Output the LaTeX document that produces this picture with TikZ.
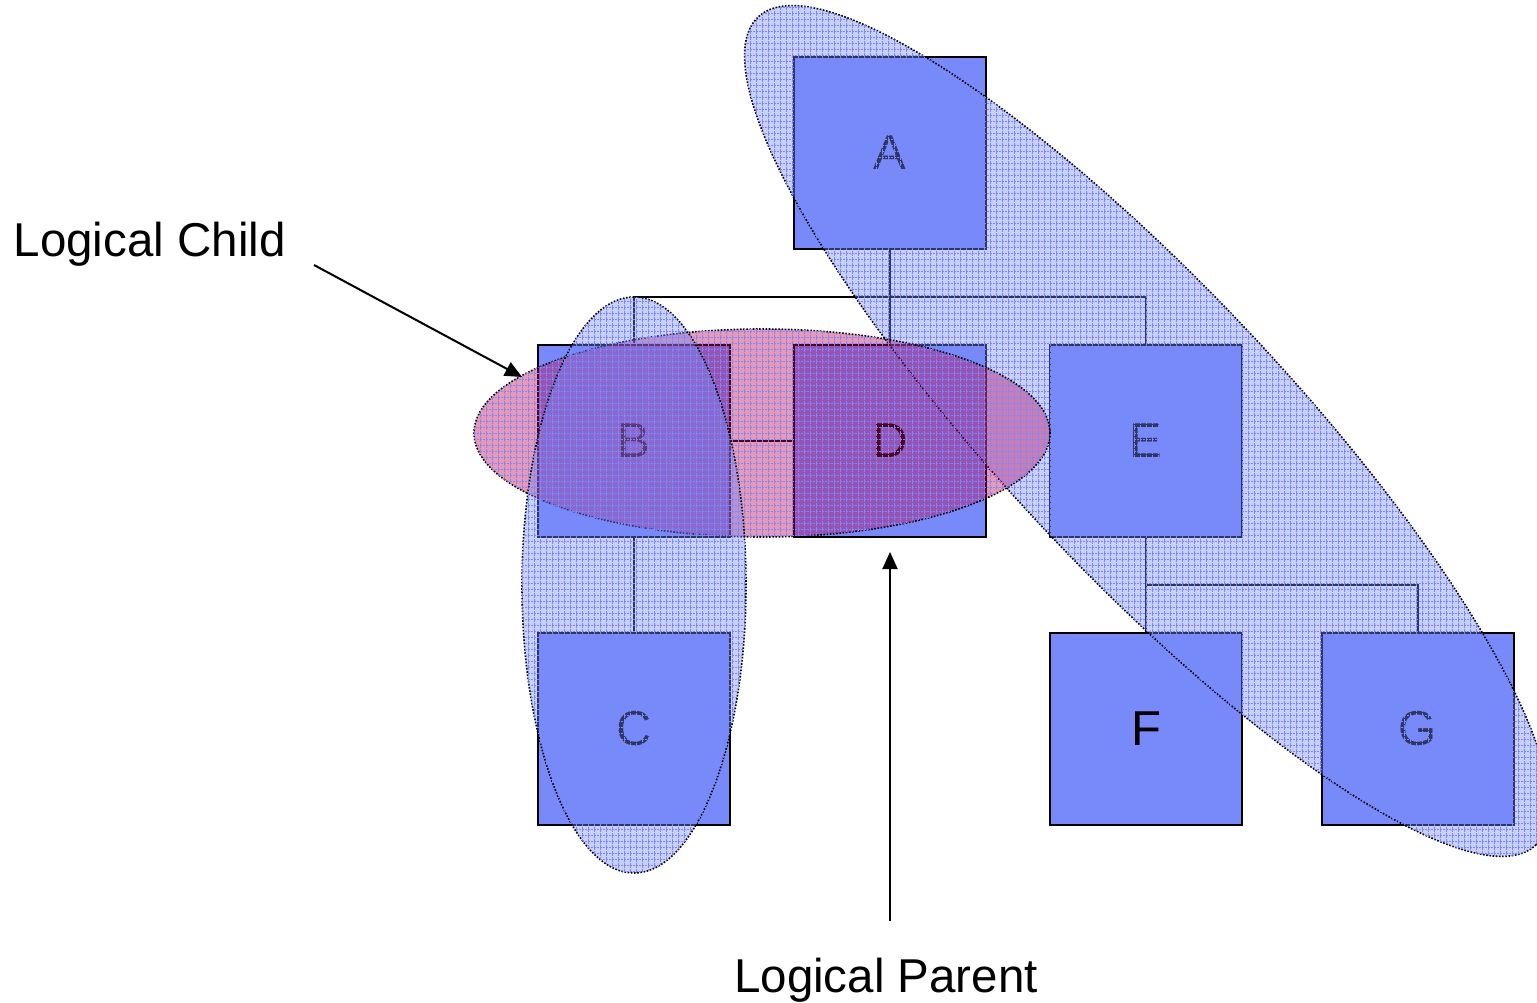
\documentclass[tikz,border=0pt]{standalone}
\usepackage{fontspec}
\setmainfont{Liberation Sans}
\usetikzlibrary{arrows.meta,patterns.meta}
\definecolor{boxblue}{RGB}{120,137,250}
\definecolor{hlred}{RGB}{200,0,70}
\begin{document}
\begin{tikzpicture}[x=1pt,y=-1pt,
  treebox/.style={draw=black, line width=2pt, fill=boxblue,
    minimum width=192pt, minimum height=192pt, inner sep=0pt,
    font=\fontsize{49}{54}\selectfont},
  link/.style={line width=2pt},
  halo/.style={draw=black, line width=1.6pt, dash pattern=on 1.6pt off 1.6pt,
    fill opacity=0.4,
    postaction={pattern={Hatch[angle=0, distance=6pt, line width=0.8pt]},
      pattern color=boxblue}},
  caption/.style={font=\fontsize{47.5}{52}\selectfont, inner sep=0pt, anchor=base west},
  pointer/.style={line width=2pt, -{Triangle[length=17pt,width=15pt]}}]
\useasboundingbox (0,0) rectangle (1537,1003);

% tree of boxes
\node[treebox] (A) at (890,153) {A};
\node[treebox] (B) at (634,441) {B};
\node[treebox] (D) at (890,441) {D};
\node[treebox] (E) at (1146,441) {E};
\node[treebox] (C) at (634,729) {C};
\node[treebox] (F) at (1146,729) {F};
\node[treebox] (G) at (1418,729) {G};

% connecting lines
\coordinate (busA) at (890,297);
\coordinate (busE) at (1146,585);
\draw[link] (A.south) -- (busA);
\draw[link] (busA) -| (B.north);
\draw[link] (busA) -| (E.north);
\draw[link] (busA) -- (D.north);
\draw[link] (B.east) -- (D.west);
\draw[link] (B.south) -- (C.north);
\draw[link] (E.south) -- (busE);
\draw[link] (busE) -- (F.north);
\draw[link] (busE) -| (G.north);

% highlighted groups
\draw[halo, fill=boxblue, rotate around={-46.8:(1147,431)}]
  (1147,431) ellipse [x radius=568pt, y radius=142pt];
\draw[halo, fill=hlred] (762,433) ellipse [x radius=288pt, y radius=104pt];
\draw[halo, fill=boxblue] (634,585) ellipse [x radius=112pt, y radius=288pt];

% captions and pointers
\node[caption] (child) at (13.5,257) {Logical Child};
\node[caption] (parent) at (734,992) {Logical Parent};
\coordinate (childtail) at (314,265);
\coordinate (childtip) at (522,377);
\coordinate (parenttail) at (890,921);
\coordinate (parenttip) at (890,552);
\draw[pointer] (childtail) -- (childtip);
\draw[pointer] (parenttail) -- (parenttip);
\end{tikzpicture}
\end{document}
